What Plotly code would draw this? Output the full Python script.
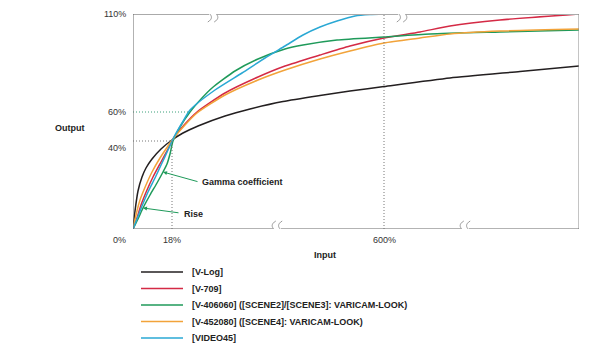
import plotly.graph_objects as go

# Schematic axes: positions in chart units (x: 0..446, y: 0..215)
x_tick_pos = [0, 39, 251]
x_tick_labels = ["0%", "18%", "600%"]
y_tick_pos = [0, 88, 117, 215]
y_tick_labels = ["0%", "40%", "60%", "110%"]

series_names = ["[V-Log]", "[V-709]", "[V-406060] ([SCENE2]/[SCENE3]: VARICAM-LOOK)",
                "[V-452080] ([SCENE4]: VARICAM-LOOK)", "[VIDEO45]"]
series_colors = ["#231f20", "#d42a45", "#1f9a5a", "#f2a33a", "#2aa8d4"]

vlog_x = [0, 2, 5, 9, 13, 19, 28, 39, 50, 65, 92, 117, 150, 187, 217, 251, 317, 387, 446]
vlog_y = [0, 18, 38, 52, 61, 70, 80, 89, 96, 103, 113, 120, 127.5, 133.5, 138, 142.5, 151, 157.5, 163]

v709_x = [0, 4, 8, 14, 20, 28, 35, 40, 52, 64, 92, 125, 152, 187, 217, 251, 287, 317, 367, 446]
v709_y = [0, 11, 24, 39, 52, 67, 80, 90, 105, 117, 136, 152, 163, 174, 183, 191, 197, 203, 209, 215]

v406_x = [0, 5, 10, 17, 24, 30, 34, 37, 40, 47, 57, 69, 79, 102, 125, 152, 170, 204, 251, 297, 367, 446]
v406_y = [0, 10, 21, 34, 46, 57, 65, 75, 88, 102, 117, 131, 141, 158, 170, 180, 184, 189, 192, 195, 197, 199]

v452_x = [0, 3, 7, 13, 19, 27, 35, 40, 52, 64, 92, 125, 152, 187, 217, 251, 287, 317, 367, 446]
v452_y = [0, 14, 29, 44, 57, 71, 83, 90, 104, 116, 134, 149, 159, 170, 178, 186, 191, 195, 198, 200]

video45_x = [0, 4, 9, 15, 22, 29, 35, 40, 49, 57, 82, 109, 132, 152, 170, 187, 204, 222, 237, 251]
video45_y = [0, 10, 23, 37, 51, 66, 79, 90, 106, 119, 139, 156, 171, 183, 194, 202, 208, 213, 214.5, 215]

xs = [vlog_x, v709_x, v406_x, v452_x, video45_x]
ys = [vlog_y, v709_y, v406_y, v452_y, video45_y]

XR, YR = 446.0, 215.0  # axis extents in chart units


def px(x):
    return x / XR


def py(y):
    return y / YR


fig = go.Figure()
for name, color, x, y in zip(series_names, series_colors, xs, ys):
    fig.add_trace(go.Scatter(x=x, y=y, mode="lines", name=name, showlegend=False,
                             line=dict(color=color, width=1.5, shape="spline", smoothing=0.6),
                             cliponaxis=False))

DOT = "1px,2px"
shapes = []
# reference dotted lines
shapes.append(dict(type="line", x0=251, x1=251, y0=0, y1=215, line=dict(color="#777", width=1, dash=DOT)))
shapes.append(dict(type="line", x0=39, x1=39, y0=0, y1=88, line=dict(color="#777", width=1, dash=DOT)))
shapes.append(dict(type="line", x0=0, x1=39, y0=88, y1=88, line=dict(color="#777", width=1, dash=DOT)))
shapes.append(dict(type="line", x0=0, x1=57, y0=117, y1=117, line=dict(color="#3aa07a", width=1, dash=DOT)))
# frame
shapes.append(dict(type="line", x0=0, x1=446, y0=215, y1=215, line=dict(color="#aaaaaa", width=2)))
shapes.append(dict(type="line", x0=0, x1=0, y0=0, y1=215, line=dict(color="#666", width=1)))
shapes.append(dict(type="line", x0=446, x1=446, y0=0, y1=215, line=dict(color="#888", width=1)))
shapes.append(dict(type="line", x0=0, x1=446, y0=0, y1=0, line=dict(color="#666", width=1)))


# break marks (squiggles)
def brk(xc, yc):
    out = [dict(type="rect", x0=xc - 4, x1=xc + 4, y0=yc - 2, y1=yc + 2,
                fillcolor="white", line=dict(width=0))]
    for dx in (-3.2, 3.2):
        x = xc + dx
        path = (f"M {x+2},{yc+8} C {x-3},{yc+5} {x-2},{yc+2} {x},{yc} "
                f"C {x+2},{yc-2} {x+3},{yc-5} {x-2},{yc-8}")
        out.append(dict(type="path", path=path, line=dict(color="#999", width=1)))
    return out


for xc in (80, 269):
    shapes += brk(xc, 215)
for xc in (144, 332):
    shapes += brk(xc, 0)

# legend drawn manually (compact rows)
leg_x0, leg_x1, leg_text = 141, 183, 190
leg_rows = [272, 288.5, 305, 321.5, 338]
for color, yrow in zip(series_colors, leg_rows):
    yy = (229 - yrow)
    shapes.append(dict(type="line", xref="paper", yref="paper",
                       x0=px(leg_x0 - 133), x1=px(leg_x1 - 133), y0=py(yy), y1=py(yy),
                       line=dict(color=color, width=1.5)))

annotations = []
for p, t in zip(y_tick_pos, y_tick_labels):
    yy = p
    if t == "40%":
        yy = p - 7
    if t == "0%":
        yy = -11
    annotations.append(dict(x=px(-5), y=py(yy), xref="paper", yref="paper", text=t, showarrow=False,
                            xanchor="right", yanchor="middle", font=dict(size=9, color="#333")))
for p, t in zip(x_tick_pos[1:], x_tick_labels[1:]):
    annotations.append(dict(x=px(p), y=py(-11), xref="paper", yref="paper", text=t, showarrow=False,
                            xanchor="center", yanchor="middle", font=dict(size=9, color="#333")))
annotations.append(dict(x=px(-63), y=py(101), xref="paper", yref="paper", text="<b>Output</b>",
                        showarrow=False, xanchor="center", yanchor="middle",
                        font=dict(size=9, color="#222")))
annotations.append(dict(x=px(192), y=py(-26), xref="paper", yref="paper", text="<b>Input</b>",
                        showarrow=False, xanchor="center", yanchor="middle",
                        font=dict(size=9, color="#222")))
annotations.append(dict(x=30, y=57, ax=66, ay=47, xref="x", yref="y", axref="x", ayref="y",
                        text="", showarrow=True, arrowhead=2, arrowsize=0.8, arrowwidth=1,
                        arrowcolor="#1f9a5a"))
annotations.append(dict(x=67, y=47, xref="x", yref="y", text="<b>Gamma coefficient</b>", showarrow=False,
                        xanchor="left", yanchor="middle", font=dict(size=9, color="#222")))
annotations.append(dict(x=10, y=21, ax=47, ay=16, xref="x", yref="y", axref="x", ayref="y",
                        text="", showarrow=True, arrowhead=2, arrowsize=0.8, arrowwidth=1,
                        arrowcolor="#1f9a5a"))
annotations.append(dict(x=49, y=15, xref="x", yref="y", text="<b>Rise</b>", showarrow=False,
                        xanchor="left", yanchor="middle", font=dict(size=9, color="#222")))
for name, yrow in zip(series_names, leg_rows):
    annotations.append(dict(x=px(leg_text - 133), y=py(229 - yrow), xref="paper", yref="paper",
                            text=f"<b>{name}</b>", showarrow=False, xanchor="left", yanchor="middle",
                            font=dict(size=9, color="#222")))

fig.update_layout(
    width=600, height=347,
    margin=dict(l=133, r=21, t=14, b=118, autoexpand=False),
    paper_bgcolor="white", plot_bgcolor="white",
    font=dict(family="Liberation Sans, Arial, sans-serif", size=9, color="#222"),
    xaxis=dict(range=[0, 446], showgrid=False, zeroline=False, showticklabels=False,
               showline=False, ticks="", fixedrange=True),
    yaxis=dict(range=[0, 215], showgrid=False, zeroline=False, showticklabels=False,
               showline=False, ticks="", fixedrange=True),
    shapes=shapes, annotations=annotations,
    showlegend=False,
)

fig.write_html("out.html")
